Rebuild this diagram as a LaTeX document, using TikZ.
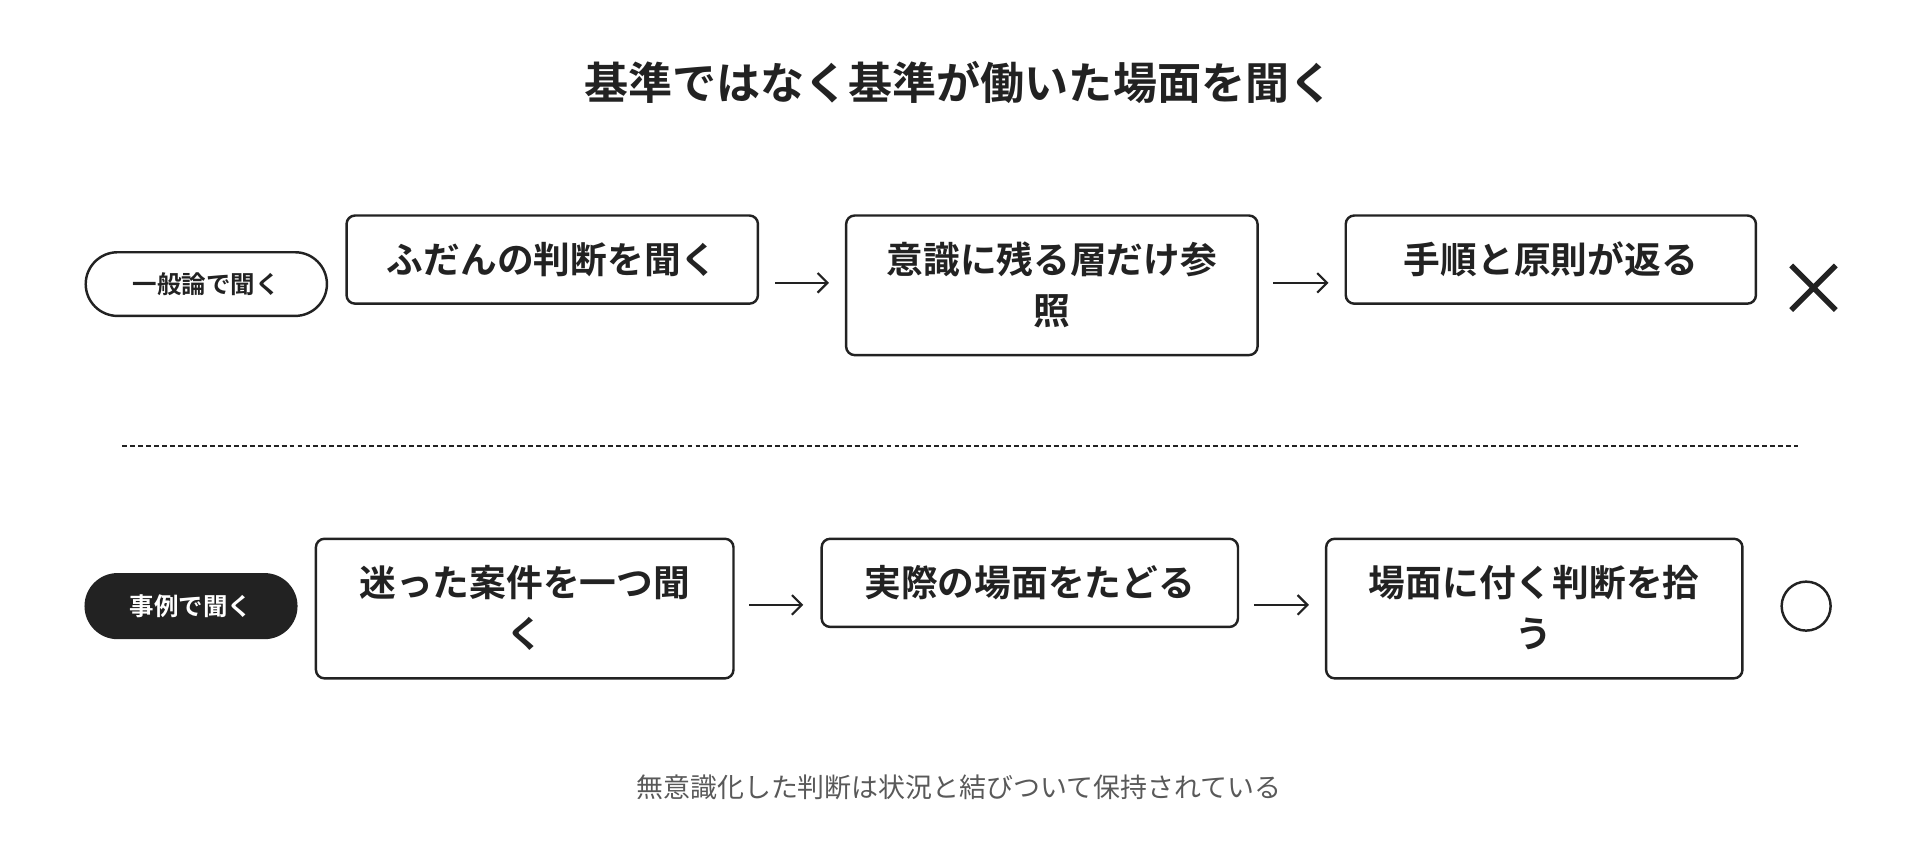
\documentclass[tikz,border=0pt]{standalone}
\usepackage{fontspec}
\usetikzlibrary{arrows.meta}
\setmainfont{Noto Sans CJK JP}[BoldFont={Noto Sans CJK JP Bold}]
\definecolor{ink}{HTML}{222222}
\begin{document}
\begin{tikzpicture}[x=1pt,y=-1pt,
 box/.style={draw=ink,line width=2pt,rounded corners=7pt,anchor=north west,align=center,inner sep=0pt,font=\fontsize{30}{42}\selectfont\bfseries,text=ink},
 pill/.style={draw=ink,line width=2pt,rounded corners=26pt,minimum height=52pt,inner sep=0pt,font=\fontsize{20}{24}\selectfont\bfseries},
 arr/.style={draw=ink,line width=1.8pt,-{Straight Barb[length=8pt,width=16pt]}}]
\useasboundingbox (0,0) rectangle (1568,692);
\node[font=\fontsize{36}{40}\selectfont\bfseries,text=ink] (title) at (783,67) {基準ではなく基準が働いた場面を聞く};
% row 1
\node[pill,minimum width=197pt,text=ink] (p1) at (168.5,232) {一般論で聞く};
\node[box,minimum width=336pt,minimum height=72pt] (a1) at (282,175) {ふだんの判断を聞く};
\node[box,minimum width=336pt,minimum height=114pt] (a2) at (690,175) {\rule{0pt}{36pt}意識に残る層だけ参\\照\rule[-14pt]{0pt}{0pt}};
\node[box,minimum width=335pt,minimum height=72pt] (a3) at (1098,175) {手順と原則が返る};
\coordinate (a1r) at (633,231); \coordinate (a2l) at (677,231);
\coordinate (a2r) at (1040,231); \coordinate (a3l) at (1085,231);
\draw[arr] (a1r) -- (a2l);
\draw[arr] (a2r) -- (a3l);
\node[inner sep=0pt,minimum size=36pt] (x) at (1481,235) {};
\draw[ink,line width=4.5pt] (x.north west) -- (x.south east) (x.north east) -- (x.south west);
% divider
\coordinate (d1) at (100,364); \coordinate (d2) at (1468,364);
\draw[ink,line width=1.5pt,dash pattern=on 4pt off 2.5pt] (d1) -- (d2);
% row 2
\node[pill,fill=ink,text=white,minimum width=172pt] (p2) at (156,495) {事例で聞く};
\node[box,minimum width=341pt,minimum height=114pt] (b1) at (257,439) {\rule{0pt}{36pt}迷った案件を一つ聞\\く\rule[-14pt]{0pt}{0pt}};
\node[box,minimum width=340pt,minimum height=72pt] (b2) at (670,439) {実際の場面をたどる};
\node[box,minimum width=340pt,minimum height=114pt] (b3) at (1082,439) {\rule{0pt}{36pt}場面に付く判断を拾\\う\rule[-14pt]{0pt}{0pt}};
\coordinate (b1r) at (612,494); \coordinate (b2l) at (656,494);
\coordinate (b2r) at (1024,494); \coordinate (b3l) at (1069,494);
\draw[arr] (b1r) -- (b2l);
\draw[arr] (b2r) -- (b3l);
\node[draw=ink,line width=2pt,circle,minimum size=40pt,inner sep=0pt] (o) at (1475,495) {};
\node[font=\fontsize{22}{26}\selectfont,text=ink!75] (cap) at (783,643) {無意識化した判断は状況と結びついて保持されている};
\end{tikzpicture}
\end{document}
